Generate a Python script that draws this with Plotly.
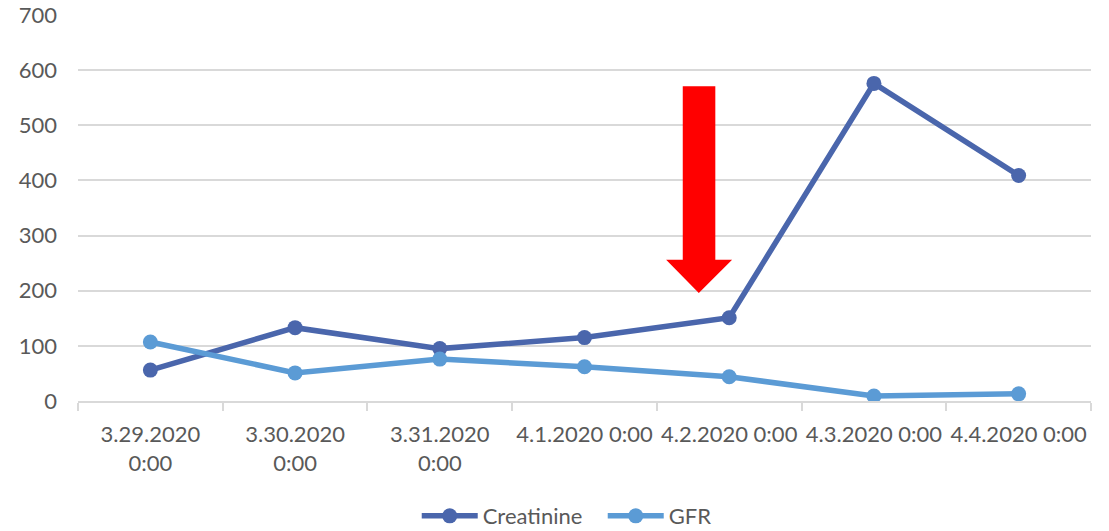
import plotly.graph_objects as go

# Dates (category labels) and lab values
dates = ["3.29.2020<br>0:00", "3.30.2020<br>0:00", "3.31.2020<br>0:00",
         "4.1.2020 0:00", "4.2.2020 0:00", "4.3.2020 0:00", "4.4.2020 0:00"]
creatinine = [56, 133, 95, 115, 151, 576, 409]
gfr = [107, 51, 76, 62, 44, 9, 13]

idx = list(range(len(dates)))

# Red down-arrow outline (x in category index units, y in axis units)
arrow_x = [3.679, 3.904, 3.904, 4.020, 3.790, 3.564, 3.679]
arrow_y = [571, 571, 256, 256, 196, 256, 256]

AXIS_GREY = "#d9d9d9"
TEXT_GREY = "#595959"
FONT = "Lato"

fig = go.Figure()
fig.add_trace(go.Scatter(
    x=idx, y=creatinine, name="Creatinine", mode="lines+markers",
    line=dict(color="#4a66ac", width=5.5), marker=dict(size=15, color="#4a66ac"),
))
fig.add_trace(go.Scatter(
    x=idx, y=gfr, name="GFR", mode="lines+markers",
    line=dict(color="#5b9bd5", width=5.5), marker=dict(size=15, color="#5b9bd5"),
))

path = "M " + " L ".join(f"{x},{y}" for x, y in zip(arrow_x, arrow_y)) + " Z"
fig.add_shape(type="path", path=path, xref="x", yref="y",
              fillcolor="#ff0000", line=dict(width=0), layer="above")

fig.update_layout(
    width=1109, height=531,
    margin=dict(l=78, r=18, t=15, b=130, autoexpand=False),
    paper_bgcolor="white", plot_bgcolor="white",
    font=dict(family=FONT, size=22, color=TEXT_GREY),
    showlegend=True,
    legend=dict(orientation="h", x=0.518, xanchor="center", y=-0.298, yanchor="middle",
                itemwidth=56, entrywidth=115, entrywidthmode="pixels",
                font=dict(family=FONT, size=22, color=TEXT_GREY)),
    xaxis=dict(
        range=[-0.5, 6.5], tickmode="array", tickvals=idx, ticktext=dates,
        ticks="", showgrid=False, zeroline=False, automargin=False,
        showline=True, linecolor=AXIS_GREY, linewidth=1.5,
        ticklabelstandoff=13,
        minor=dict(tickmode="array", tickvals=[i - 0.5 for i in range(len(dates) + 1)],
                   ticks="outside", ticklen=8, tickwidth=1.5, tickcolor=AXIS_GREY,
                   showgrid=False),
    ),
    yaxis=dict(
        range=[0, 700], tickmode="linear", tick0=0, dtick=100,
        showgrid=True, gridcolor=AXIS_GREY, gridwidth=1.5,
        zeroline=False, showline=False, ticks="", automargin=False,
        ticklabelstandoff=20,
    ),
)

fig.write_html("out.html")
